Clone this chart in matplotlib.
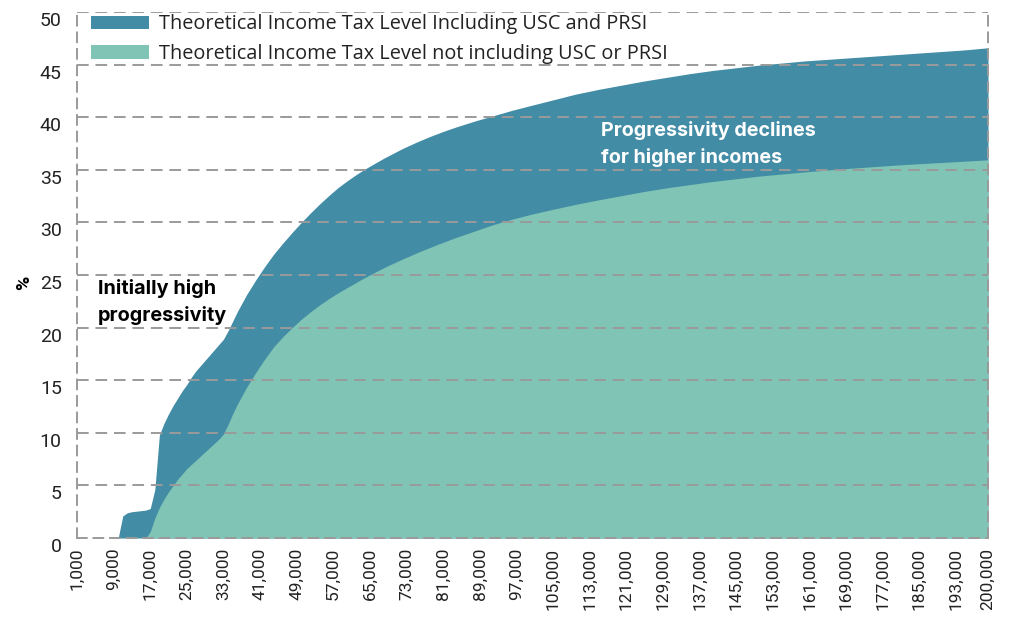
import matplotlib
matplotlib.use("Agg")
import matplotlib.pyplot as plt
from matplotlib.patches import Patch

# Gross income (EUR) and effective tax rate (%)
income_incl = [1000, 10000, 11000, 12000, 13000, 14000, 15000, 16000, 17000, 18000,
               19000, 20000, 21000, 22000, 23000, 24000, 25000, 26000, 27000, 28000,
               29000, 30000, 31000, 32000, 33000, 34000, 35000, 36000, 37000, 38000,
               39000, 40000, 42000, 44000, 46000, 48000, 50000, 52000, 54000, 56000,
               58000, 60000, 62000, 64000, 66000, 68000, 70000, 72000, 75000, 78000,
               81000, 84000, 88000, 92000, 96000, 100000, 105000, 110000, 115000,
               120000, 125000, 130000, 135000, 140000, 145000, 150000, 155000, 160000,
               165000, 170000, 175000, 180000, 185000, 190000, 195000, 200000]
rate_incl = [0, 0, 2.1, 2.4, 2.5, 2.55, 2.6, 2.65, 2.8, 4.6,
             9.8, 10.9, 11.8, 12.6, 13.3, 14.0, 14.6, 15.3, 15.9, 16.4,
             16.9, 17.4, 17.9, 18.4, 18.9, 19.7, 20.6, 21.5, 22.3, 23.1,
             23.8, 24.5, 25.8, 27.0, 28.05, 29.05, 30.0, 30.9, 31.75, 32.55,
             33.3, 33.95, 34.55, 35.1, 35.6, 36.1, 36.55, 37.0, 37.6, 38.15,
             38.65, 39.1, 39.65, 40.15, 40.65, 41.1, 41.65, 42.2, 42.65,
             43.05, 43.45, 43.8, 44.15, 44.45, 44.7, 44.95, 45.15, 45.35,
             45.5, 45.65, 45.8, 45.95, 46.1, 46.25, 46.4, 46.6]

income_excl = [1000, 16000, 17000, 18000, 19000, 20000, 21000, 22000, 23000, 24000,
               25000, 26000, 27000, 28000, 29000, 30000, 31000, 32000, 33000, 34000,
               35000, 36000, 37000, 38000, 39000, 40000, 42000, 44000, 46000, 48000,
               50000, 52000, 54000, 56000, 58000, 60000, 63000, 66000, 69000, 72000,
               76000, 80000, 84000, 88000, 92000, 96000, 100000, 105000, 110000,
               115000, 120000, 125000, 130000, 135000, 140000, 145000, 150000,
               155000, 160000, 165000, 170000, 175000, 180000, 185000, 190000,
               195000, 200000]
rate_excl = [0, 0, 0.6, 1.9, 2.9, 3.7, 4.4, 5.0, 5.6, 6.1,
             6.6, 7.0, 7.4, 7.8, 8.2, 8.6, 9.0, 9.4, 9.9, 10.8,
             11.8, 12.7, 13.5, 14.3, 15.0, 15.7, 17.0, 18.2, 19.15, 20.0,
             20.8, 21.5, 22.15, 22.75, 23.3, 23.8, 24.55, 25.25, 25.9, 26.5,
             27.25, 27.95, 28.6, 29.2, 29.8, 30.3, 30.75, 31.25, 31.72,
             32.15, 32.55, 32.95, 33.3, 33.6, 33.9, 34.15, 34.4,
             34.6, 34.8, 34.98, 35.15, 35.3, 35.45, 35.58, 35.7,
             35.82, 35.95]

x_ticks = [1000, 9000, 17000, 25000, 33000, 41000, 49000, 57000, 65000, 73000,
           81000, 89000, 97000, 105000, 113000, 121000, 129000, 137000, 145000,
           153000, 161000, 169000, 177000, 185000, 193000, 200000]
y_ticks = [0, 5, 10, 15, 20, 25, 30, 35, 40, 45, 50]

label_incl = "Theoretical Income Tax Level Including USC and PRSI"
label_excl = "Theoretical Income Tax Level not including USC or PRSI"

BLUE = "#428ca6"
TEAL = "#7fc4b4"
GRID = "#9a9a9a"
TEXT = "#222222"
DPI = 100

plt.rcParams["font.family"] = ["Roboto", "DejaVu Sans"]

fig = plt.figure(figsize=(10.11, 6.21), dpi=DPI)
ax = fig.add_axes([77 / 1011, 83 / 621, 911 / 1011, 526 / 621])

ax.fill_between(income_incl, 0, rate_incl, color=BLUE, lw=0, zorder=1)
ax.fill_between(income_excl, 0, rate_excl, color=TEAL, lw=0, zorder=2)

ax.set_xlim(1000, 200000)
ax.set_ylim(0, 50)

# dashed horizontal grid drawn over the areas
for y in y_ticks[1:]:
    ax.axhline(y, color=GRID, lw=1.4, ls=(0, (6, 3.5)), zorder=3)

for side in ["left", "right", "bottom", "top"]:
    sp = ax.spines[side]
    sp.set_color(GRID)
    sp.set_linewidth(1.4)
    sp.set_linestyle((0, (5, 3.5)))
    sp.set_zorder(3)
ax.spines["top"].set_visible(False)

ax.set_xticks(x_ticks)
ax.set_xticklabels([f"{v:,}" for v in x_ticks], rotation=90, fontsize=12.5, color=TEXT)
ax.set_yticks(y_ticks)
ax.set_yticklabels([str(v) for v in y_ticks], fontsize=14, color=TEXT)
for lab in ax.get_yticklabels():
    lab.set_va("top")
ax.tick_params(axis="x", length=0, pad=7)
ax.tick_params(axis="y", length=0, pad=11)

ax.set_ylabel("%", fontsize=14, fontweight="bold", color="black", rotation=90)
ax.yaxis.set_label_coords(-0.048, 0.485)

handles = [Patch(facecolor=BLUE, edgecolor="none", label=label_incl),
           Patch(facecolor=TEAL, edgecolor="none", label=label_excl)]


def add_legend(fs):
    px = fs * DPI / 72.0
    return ax.legend(handles=handles, loc="upper left",
                     bbox_to_anchor=(0.0154, 0.9956), frameon=False,
                     prop={"family": ["Open Sans", "DejaVu Sans"], "size": fs},
                     handlelength=58 / px, handleheight=13 / px,
                     handletextpad=10 / px, labelspacing=(29.4 - px) / px,
                     borderaxespad=0.0, borderpad=0.0, labelcolor=TEXT)


# size the legend text so the first entry spans about 485 px
base = 12.0
leg = add_legend(base)
fig.canvas.draw()
w = leg.get_texts()[0].get_window_extent(fig.canvas.get_renderer()).width
leg.remove()
add_legend(base * 485.0 / w)

ax.text(5600, 22.4, "Initially high\nprogressivity", fontsize=14.3,
        fontweight="bold", color="black", ha="left", va="center",
        linespacing=1.55, family=["Inter", "DejaVu Sans"], zorder=4)
ax.text(115500, 37.45, "Progressivity declines\nfor higher incomes", fontsize=14.2,
        fontweight="bold", color="white", ha="left", va="center",
        linespacing=1.55, family=["Inter", "DejaVu Sans"], zorder=4)

fig.savefig("out.png", dpi=DPI)
